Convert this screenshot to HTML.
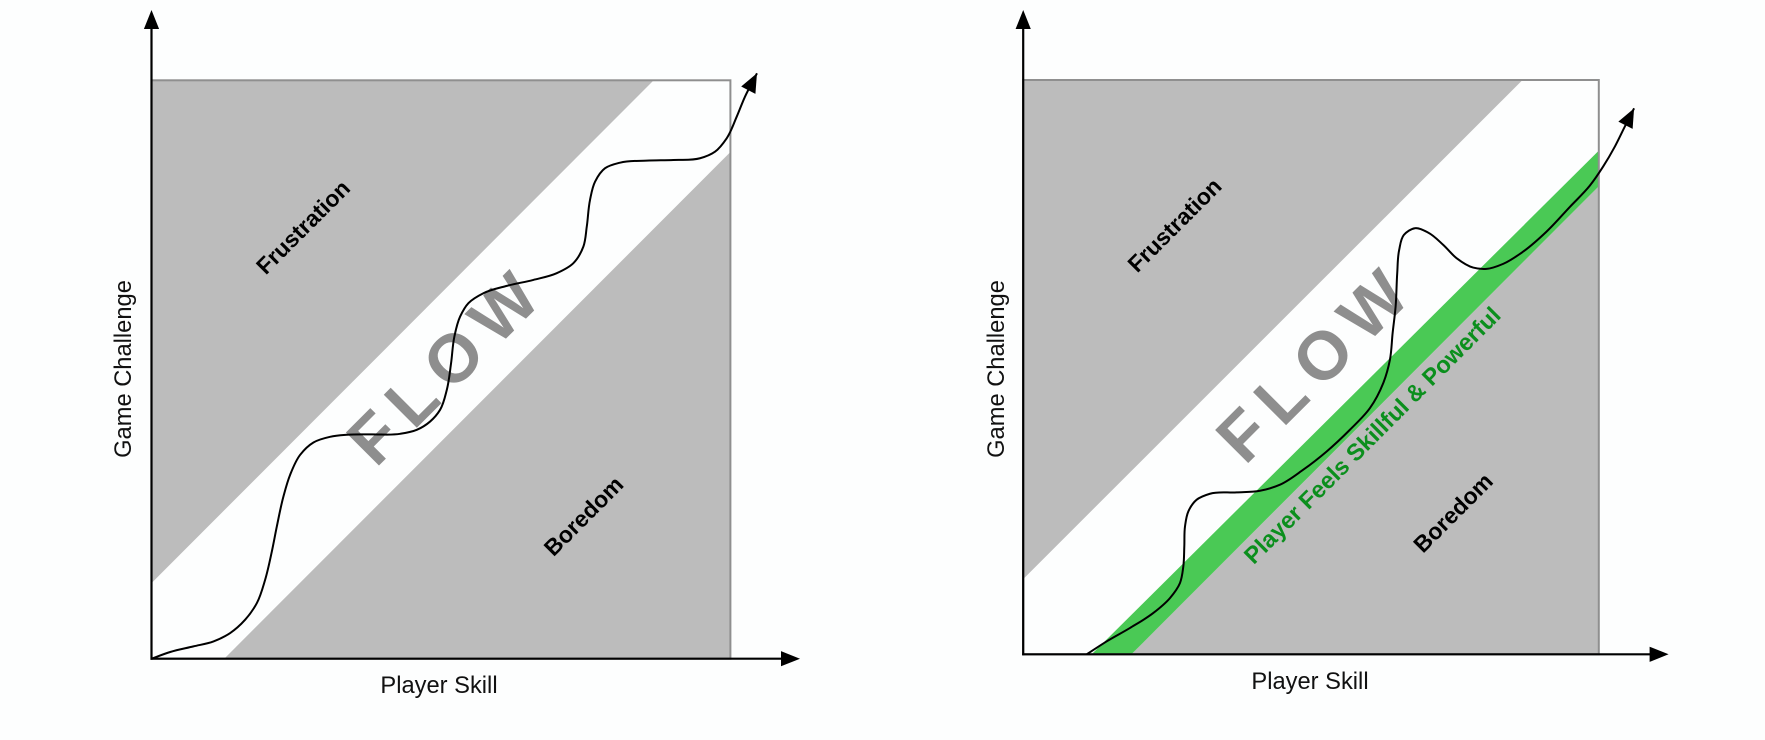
<!DOCTYPE html>
<html lang="en">
<head>
<meta charset="utf-8">
<title>Flow channel diagrams</title>
<style>
html,body{margin:0;padding:0;background:#fdfefe;}
svg{display:block;}
text{font-family:"Liberation Sans",sans-serif;}
.axis-title{font-size:23.7px;fill:#111;text-anchor:middle;}
.zone{font-size:23px;font-weight:bold;fill:#000;text-anchor:middle;dominant-baseline:central;}
.flow{font-size:68px;font-weight:bold;fill:#8e8e8e;text-anchor:middle;dominant-baseline:central;letter-spacing:12px;}
.skill{font-size:23.6px;font-weight:bold;fill:#0b8f1d;text-anchor:middle;dominant-baseline:central;}
</style>
</head>
<body>
<svg id="root" width="1765" height="740" viewBox="0 0 1765 740" xmlns="http://www.w3.org/2000/svg">
  <g id="left-chart">
    <g id="left-marks"></g>
    <text class="zone" transform="rotate(-45 303 227)" x="303" y="227">Frustration</text>
    <text class="zone" transform="rotate(-45 583.5 516)" x="583.5" y="516">Boredom</text>
    <text class="flow" transform="rotate(-45 447.2 364.8)" x="447.2" y="364.8">FLOW</text>
    <text class="axis-title" x="439" y="693">Player Skill</text>
    <text class="axis-title" transform="rotate(-90 131 369)" x="131" y="369">Game Challenge</text>
    <g id="left-curve"></g>
  </g>
  <g id="right-chart">
    <g id="right-marks"></g>
    <text class="zone" transform="rotate(-45 1174.5 225)" x="1174.5" y="225">Frustration</text>
    <text class="zone" transform="rotate(-45 1453 512.7)" x="1453" y="512.7">Boredom</text>
    <text class="flow" transform="rotate(-45 1316.5 362.2)" x="1316.5" y="362.2">FLOW</text>
    <text class="skill" transform="rotate(-45 1373 436)" x="1373" y="436">Player Feels Skillful &amp; Powerful</text>
    <text class="axis-title" x="1310" y="689">Player Skill</text>
    <text class="axis-title" transform="rotate(-90 1004 369)" x="1004" y="369">Game Challenge</text>
    <g id="right-curve"></g>
  </g>
</svg>
<script>
// Values are in axis units: 0-100 of player skill (x) and game challenge (y).
const leftSkill = [0,3.23,7.25,10.71,13.59,16.18,18.2,19.63,20.79,21.65,22.79,23.95,25.68,27.97,30.85,33.74,37.77,42.95,45.83,48.12,49.85,51.01,51.75,52.32,53.31,54.74,57.33,61.37,65.96,70,72.87,74.6,75.19,75.75,76.62,78.35,80.94,85.55,90.14,94.75,97.34,99.36,101.09,102.52,104.59];
const leftChallenge = [0,1.16,2.13,2.99,4.44,6.74,9.62,13.65,18.54,22.86,28.05,31.8,35.25,37.38,38.36,38.71,38.79,38.88,39.57,41,43.03,46.48,51.1,55.7,59.15,61.47,63.19,64.46,65.49,66.65,68.38,71.25,74.7,79.32,82.48,84.8,85.76,86.11,86.23,86.52,87.66,89.98,93.71,97.17,101.21];
const rightSkill = [11.04,14.52,18.56,22.61,25.51,27.24,27.82,27.99,28.11,28.69,30.14,32.45,37.09,41.14,44.61,48.65,52.72,56.76,60.24,62.55,63.71,64.18,64.7,64.98,65.32,66.14,68.05,70.36,72.97,75.29,78.17,80.5,83.38,86.86,90.92,94.97,98.44,100.75,102.78,104.51,106.13];
const rightChallenge = [0,2.26,4.59,7.2,9.81,12.42,15.31,18.79,22.27,24.88,26.92,27.96,28.19,28.48,29.53,32.14,35.32,39.1,42.87,47.22,51.28,55.92,60.55,66.36,70.42,73.03,74.19,73.43,71.29,68.98,67.34,67.11,67.98,70.12,73.6,77.9,81.6,84.92,88.39,91.87,95.07];
// Zone boundaries: where each diagonal meets the box.
const leftFrustrationEdge = [13.07, 86.75];   // challenge at skill 0, skill at challenge 100
const leftBoredomEdge = [12.56, 87.6];        // skill at challenge 0, challenge at skill 100
const rightFrustrationEdge = [13.1, 86.75];
const rightGreenUpperEdge = [11.9, 87.7];
const rightGreenLowerEdge = [18.8, 81.5];

const NS = 'http://www.w3.org/2000/svg';
function make(parent, tag, attrs) {
  const el = document.createElementNS(NS, tag);
  for (const k in attrs) el.setAttribute(k, attrs[k]);
  parent.appendChild(el);
  return el;
}
function axisX(frame, v) { return frame.x0 + (frame.x1 - frame.x0) * v / 100; }
function axisY(frame, v) { return frame.y0 + (frame.y1 - frame.y0) * v / 100; }
function polyPoints(frame, pts) {
  return pts.map(p => axisX(frame, p[0]).toFixed(2) + ',' + axisY(frame, p[1]).toFixed(2)).join(' ');
}
function splinePath(frame, xs, ys) {
  const p = xs.map((x, i) => [axisX(frame, x), axisY(frame, ys[i])]);
  const n = p.length;
  const dist = (a, b) => Math.max(0.001, Math.hypot(a[0] - b[0], a[1] - b[1]));
  // chord-length weighted tangents keep unevenly spaced samples smooth
  const tan = p.map((q, i) => {
    if (i === 0) { const d = dist(p[1], q); return [(p[1][0] - q[0]) / d, (p[1][1] - q[1]) / d]; }
    if (i === n - 1) { const d = dist(q, p[i - 1]); return [(q[0] - p[i - 1][0]) / d, (q[1] - p[i - 1][1]) / d]; }
    const d0 = dist(q, p[i - 1]), d1 = dist(p[i + 1], q);
    return [0, 1].map(k => (((q[k] - p[i - 1][k]) / d0) * d1 + ((p[i + 1][k] - q[k]) / d1) * d0) / (d0 + d1));
  });
  let d = 'M' + p[0][0].toFixed(2) + ' ' + p[0][1].toFixed(2);
  for (let i = 0; i < n - 1; i++) {
    const L = dist(p[i + 1], p[i]) / 3;
    d += 'C' + (p[i][0] + tan[i][0] * L).toFixed(2) + ' ' + (p[i][1] + tan[i][1] * L).toFixed(2) + ' ' +
         (p[i + 1][0] - tan[i + 1][0] * L).toFixed(2) + ' ' + (p[i + 1][1] - tan[i + 1][1] * L).toFixed(2) + ' ' +
         p[i + 1][0].toFixed(2) + ' ' + p[i + 1][1].toFixed(2);
  }
  return { d: d, pts: p };
}
function triangle(tip, ux, uy, len, half) {
  const bx = tip[0] - ux * len, by = tip[1] - uy * len;
  return tip[0] + ',' + tip[1] + ' ' + (bx - uy * half) + ',' + (by + ux * half) + ' ' + (bx + uy * half) + ',' + (by - ux * half);
}
function drawAxes(g, frame, prefix) {
  const box = make(g, 'rect', { x: frame.x0, y: frame.y1, width: frame.x1 - frame.x0, height: frame.y0 - frame.y1, fill: 'none', stroke: '#8f8f8f', 'stroke-width': 2 });
  
  
  const yl = make(g, 'line', { x1: frame.x0, y1: frame.y0 + 1, x2: frame.x0, y2: frame.top + 15, stroke: '#000', 'stroke-width': 2.2 });
  
  
  const xl = make(g, 'line', { x1: frame.x0 - 1, y1: frame.y0, x2: frame.right - 15, y2: frame.y0, stroke: '#000', 'stroke-width': 2.2 });
  
  
  const ya = make(g, 'polygon', { points: triangle([frame.x0, frame.top], 0, -1, 19, 7.6), fill: '#000' });
  
  
  const xa = make(g, 'polygon', { points: triangle([frame.right, frame.y0], 1, 0, 19, 7.6), fill: '#000' });
  
  
}
function drawCurve(g, frame, xs, ys, prefix) {
  const s = splinePath(frame, xs, ys);
  const c = make(g, 'path', { d: s.d, fill: 'none', stroke: '#000', 'stroke-width': 2, 'stroke-linejoin': 'round' });
  
  
  const n = s.pts.length - 1, tip = s.pts[n], prev = s.pts[n - 1];
  const dx = tip[0] - prev[0], dy = tip[1] - prev[1], L = Math.hypot(dx, dy);
  const h = make(g, 'polygon', { points: triangle(tip, dx / L, dy / L, 19, 8), fill: '#000' });
  
  
}

const leftFrame = { x0: 151.5, x1: 730.4, y0: 658.7, y1: 80.3, top: 10, right: 800 };
const rightFrame = { x0: 1023.2, x1: 1598.8, y0: 654.3, y1: 80, top: 10, right: 1668.6 };

// Left chart
const lm = document.getElementById('left-marks');
const lf = make(lm, 'polygon', { points: polyPoints(leftFrame, [[0, 100], [leftFrustrationEdge[1], 100], [0, leftFrustrationEdge[0]]]), fill: '#bcbcbc' });


const lb = make(lm, 'polygon', { points: polyPoints(leftFrame, [[leftBoredomEdge[0], 0], [100, 0], [100, leftBoredomEdge[1]]]), fill: '#bcbcbc' });


drawAxes(lm, leftFrame, 'left');
drawCurve(document.getElementById('left-curve'), leftFrame, leftSkill, leftChallenge, 'left');

// Right chart
const rm = document.getElementById('right-marks');
const rf = make(rm, 'polygon', { points: polyPoints(rightFrame, [[0, 100], [rightFrustrationEdge[1], 100], [0, rightFrustrationEdge[0]]]), fill: '#bcbcbc' });


const rb = make(rm, 'polygon', { points: polyPoints(rightFrame, [[rightGreenLowerEdge[0], 0], [100, 0], [100, rightGreenLowerEdge[1]]]), fill: '#bcbcbc' });


const rg = make(rm, 'polygon', { points: polyPoints(rightFrame, [[rightGreenUpperEdge[0], 0], [rightGreenLowerEdge[0], 0], [100, rightGreenLowerEdge[1]], [100, rightGreenUpperEdge[1]]]), fill: '#4ac955' });


drawAxes(rm, rightFrame, 'right');
drawCurve(document.getElementById('right-curve'), rightFrame, rightSkill, rightChallenge, 'right');
</script>
</body>
</html>
